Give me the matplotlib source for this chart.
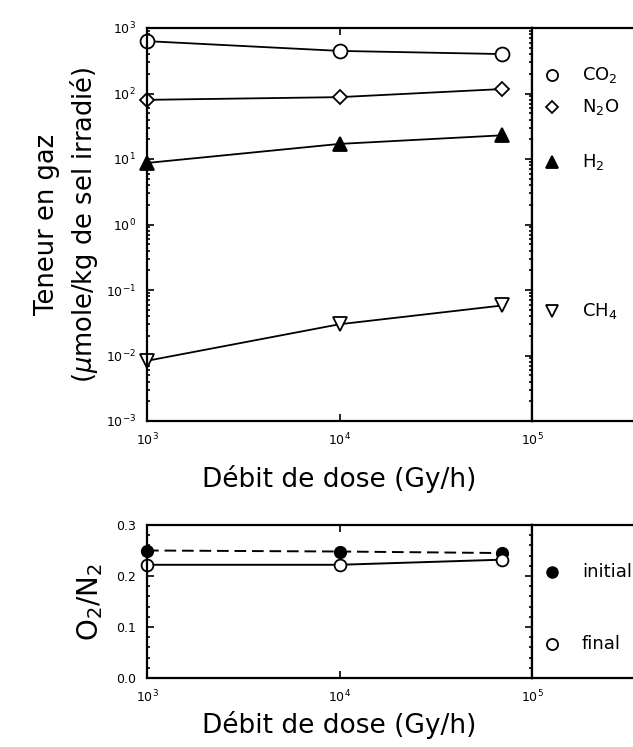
import numpy as np
import matplotlib
matplotlib.use("Agg")
import matplotlib.pyplot as plt
from matplotlib.ticker import LogLocator, NullFormatter, FixedLocator

plt.rcParams['font.family'] = ['DejaVu Sans']
plt.rcParams['mathtext.fontset'] = 'dejavusans'

# Dose rates (Gy/h)
dose = [1e3, 1e4, 7e4]

# Gas content (umole/kg of irradiated salt)
co2 = [630, 447, 400]
n2o = [80, 88, 117]
h2 = [8.7, 17, 23]
ch4 = [0.0083, 0.030, 0.058]

# O2/N2 ratio
o2n2_initial = [0.250, 0.248, 0.245]
o2n2_final = [0.222, 0.222, 0.232]

series = [
    ('CO$_2$', co2, 'o', 'white'),
    ('N$_2$O', n2o, 'D', 'white'),
    ('H$_2$', h2, '^', 'black'),
    ('CH$_4$', ch4, 'v', 'white'),
]
legend_y = [0.88, 0.80, 0.66, 0.28]

W, H = 633, 747
fig = plt.figure(figsize=(W / 100, H / 100), dpi=100)


def box(x0, x1, y0, y1):
    return [x0 / W, 1 - y1 / H, (x1 - x0) / W, (y1 - y0) / H]


def style_axes(ax):
    ax.tick_params(which='both', direction='in', right=True, top=True,
                   labelsize=9, width=1.2)
    ax.tick_params(which='major', length=5)
    ax.tick_params(which='minor', length=2.5)
    ax.tick_params(axis='x', pad=8)
    ax.tick_params(axis='y', pad=8)
    for s in ax.spines.values():
        s.set_linewidth(1.6)


def legend_panel(rect):
    lg = fig.add_axes(rect)
    lg.set_xlim(0, 1)
    lg.set_ylim(0, 1)
    lg.set_xticks([])
    lg.set_yticks([])
    for s in lg.spines.values():
        s.set_linewidth(1.6)
    return lg


# --- top panel ---
ax1 = fig.add_axes(box(147, 532, 28, 421))
for name, vals, mk, fc in series:
    ms = 7 if mk == 'D' else 10
    ax1.plot(dose, vals, color='black', lw=1.3, marker=mk, ms=ms,
             mfc=fc, mec='black', mew=1.3, clip_on=False)
ax1.set_xscale('log')
ax1.set_yscale('log')
ax1.set_xlim(1e3, 1e5)
ax1.set_ylim(1e-3, 1e3)
ax1.xaxis.set_major_locator(FixedLocator([1e3, 1e4, 1e5]))
ax1.xaxis.set_minor_locator(FixedLocator([]))
ax1.yaxis.set_major_locator(LogLocator(base=10, numticks=10))
ax1.yaxis.set_minor_locator(LogLocator(base=10, subs=np.arange(2, 10), numticks=20))
ax1.yaxis.set_minor_formatter(NullFormatter())
style_axes(ax1)
ax1.set_xlabel('Débit de dose (Gy/h)', fontsize=19, labelpad=12)
ax1.set_ylabel('Teneur en gaz\n($\\mu$mole/kg de sel irradié)', fontsize=18.5,
               labelpad=4, linespacing=1.35)

lg1 = legend_panel(box(532, 660, 28, 421))
for (name, vals, mk, fc), yy in zip(series, legend_y):
    lg1.plot([0.16], [yy], marker=mk, ms=8 if mk != 'D' else 6.5, mfc=fc,
             mec='black', mew=1.3, color='black')
    lg1.text(0.39, yy, name, fontsize=13, va='center', ha='left')

# --- bottom panel ---
ax2 = fig.add_axes(box(147, 532, 525, 678))
ax2.plot(dose, o2n2_initial, color='black', lw=1.4, ls=(0, (6, 3)),
         marker='o', ms=8.5, mfc='black', mec='black', clip_on=False)
ax2.plot(dose, o2n2_final, color='black', lw=1.4, marker='o', ms=8.5,
         mfc='white', mec='black', mew=1.3, clip_on=False)
ax2.set_xscale('log')
ax2.set_xlim(1e3, 1e5)
ax2.set_ylim(0.0, 0.3)
ax2.xaxis.set_major_locator(FixedLocator([1e3, 1e4, 1e5]))
ax2.xaxis.set_minor_locator(FixedLocator([]))
ax2.set_yticks([0.0, 0.1, 0.2, 0.3])
ax2.set_yticklabels(['0.0', '0.1', '0.2', '0.3'])
ax2.yaxis.set_minor_locator(FixedLocator(np.arange(0.02, 0.3, 0.02)))
style_axes(ax2)
ax2.set_xlabel('Débit de dose (Gy/h)', fontsize=19, labelpad=4)
ax2.set_ylabel('O$_2$/N$_2$', fontsize=20, labelpad=8)

lg2 = legend_panel(box(532, 660, 525, 678))
lg2.plot([0.16], [0.69], marker='o', ms=8, mfc='black', mec='black', color='black')
lg2.text(0.39, 0.69, 'initial', fontsize=13, va='center', ha='left')
lg2.plot([0.16], [0.22], marker='o', ms=8, mfc='white', mec='black', mew=1.3, color='black')
lg2.text(0.39, 0.22, 'final', fontsize=13, va='center', ha='left')

fig.savefig('out.png', dpi=100)
